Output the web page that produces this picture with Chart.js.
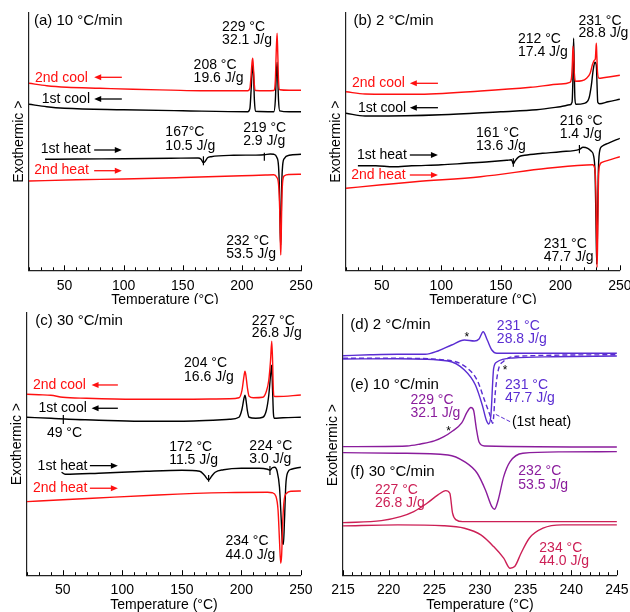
<!DOCTYPE html>
<html>
<head>
<meta charset="utf-8">
<script src="https://cdn.jsdelivr.net/npm/chart.js@4.4.1/dist/chart.umd.min.js"></script>
<style>
body { margin:0; background:#fff; width:630px; height:612px; overflow:hidden; position:relative; }
.p { position:absolute; overflow:hidden; }
</style>
</head>
<body>
<div class="p" style="left:3px;top:0;width:320px;height:304px"><canvas id="ca" width="320" height="310"></canvas></div>
<div class="p" style="left:320px;top:0;width:320px;height:304px"><canvas id="cb" width="320" height="310"></canvas></div>
<div class="p" style="left:1px;top:304px;width:320px;height:308px"><canvas id="cc" width="320" height="310"></canvas></div>
<div class="p" style="left:317px;top:304px;width:320px;height:308px"><canvas id="cd" width="320" height="310"></canvas></div>
<script>
// tick labels
const wideTicks = [50, 100, 150, 200, 250];
const zoomTicks = [215, 220, 225, 230, 235, 240, 245];

// (a) 10 °C/min  — [temperature, signal]
const aCool2 = [[20,187],[35,184.5],[52,183],[80,182],[108,181],[140,180.2],[165,179.6],[205,179.6],[206.8,182],[207.8,195],[208.6,208],[209.2,212],[209.9,200],[210.6,185],[211.5,179.8],[220,179.6],[227,179.8],[228.3,190],[229.1,220],[229.8,237],[230.4,215],[231,190],[232,180.5],[240,180],[250,180]];
const aCool1 = [[20,166],[35,163.5],[50,162],[100,160.5],[150,159.5],[205,158.6],[206.8,162],[207.8,180],[208.7,200],[209.2,205],[209.9,195],[210.6,170],[211.5,159],[227,158.6],[228.3,170],[229.1,195],[229.8,208],[230.4,190],[231,170],[232,159.5],[240,158.6],[250,158.6]];
const aHeat1 = [[33.6,111],[60,111.3],[100,111.6],[140,112],[163,112.3],[165.5,111],[167.5,107.6],[169,109],[171,112.5],[174,113.6],[193,115],[210,115.2],[219,115.5],[224,116.3],[227,116],[229.5,113],[231,104],[231.8,80],[232.4,40],[232.8,25],[233.2,45],[233.7,85],[234.5,105],[236,112],[240,115],[250,116]];
const aHeat2 = [[20,89.3],[60,90.5],[100,91.3],[150,92.8],[200,94.5],[220,95.3],[227,95.5],[229.5,93],[231,86],[232,60],[232.5,30],[232.9,15.3],[233.3,35],[233.8,70],[234.6,90],[236,94.5],[240,95.8],[250,96]];

// (b) 2 °C/min
const bCool2 = [[20,178.6],[36,176.3],[78,176],[133,179.3],[175,183],[200,186.3],[208,188],[209.3,192],[210,205],[210.6,224],[211.2,215],[211.8,195],[212.6,189],[218,189.5],[222,192],[225,197],[227,206],[228.5,210],[229.3,211],[229.8,220],[230.2,227],[230.6,215],[231.2,198],[232.5,192],[236,192.5],[242,193.5],[250,195]];
const bCool1 = [[20,157],[36,154.3],[70,154.5],[100,155.5],[150,158.6],[180,160.5],[200,163.6],[208,165.5],[209.8,168],[210.5,190],[211.1,232],[211.6,205],[212.2,172],[213,166],[220,167],[224,172],[226,185],[227.5,200],[229,208],[230.2,205],[230.8,185],[231.4,168],[233,166.5],[240,168.5],[250,171]];
const bHeat1 = [[30,104.6],[45,104.5],[60,103.5],[75,104.5],[100,105.5],[120,107],[140,108.5],[155,110],[159,110.5],[160.5,106.5],[162,109.5],[165,113.5],[170,115],[185,117],[200,118.6],[216,121],[219,123],[223,122],[226,119],[228,114],[229.2,95],[229.9,50],[230.5,6],[231.1,35],[231.8,95],[232.8,118],[235,124],[240,127],[250,132]];
const bHeat2 = [[20,82],[50,85.5],[78,88.6],[133,93.6],[189,102],[222,105.3],[227,105.5],[229,101],[229.8,80],[230.4,35],[230.8,3],[231.3,30],[232,90],[233,105],[235,108],[240,110],[250,113.6]];

// (c) 30 °C/min
const cCool2 = [[20,181],[30,180.5],[40,180],[50,178],[70,177],[110,176],[150,176],[190,176.5],[198,177.5],[200.5,185],[202.3,200],[203,204],[203.8,200],[205,188],[206.5,179],[210,177.5],[218,178],[221,184],[223,195],[224.5,215],[225.5,234],[226.2,215],[226.7,190],[227.3,179],[230,178.8],[250,180.3]];
const cCool1 = [[20,158],[40,157],[55,156],[75,155.3],[115,154],[160,154.3],[190,156],[198,158],[200.5,166],[202.2,177],[203,180],[203.8,176],[205,165],[206.5,158],[212,157],[218,158],[221,165],[223,180],[224.5,200],[225.4,210],[226.2,185],[226.9,162],[227.6,157],[235,157.5],[250,158]];
const cHeat1 = [[49,103],[52,101],[80,102],[120,104],[150,105],[165,104],[169,100],[172.5,95.3],[175,99],[178,103],[185,105.5],[200,107],[215,107],[222,106],[224,105],[226,107.5],[228,108],[230,104],[232,88],[233.5,55],[234.5,32],[235.3,31],[236.2,55],[237.3,90],[239,103],[242,106],[250,108]];
const cHeat2 = [[20,73.6],[50,75.5],[75,77],[130,80.3],[187,82.6],[222,83],[226,82.5],[229,79],[230.8,65],[232,35],[233,12],[233.8,20],[234.8,55],[236,76],[238,82],[242,84],[250,84.3]];

// (d) 2, (e) 10, (f) 30 °C/min, 215–245 °C
const dCool = [[215,219.6],[218,220.5],[221,221],[224,221],[225.4,224.3],[226.9,230.3],[228.3,235.3],[229.4,234.3],[229.9,236.3],[230.35,243.6],[230.8,235.3],[231.3,225.3],[231.85,222],[235,222],[245,222]];
const dHeat = [[215,216.3],[221,216.5],[226.5,214.3],[228.3,205.3],[229.5,190.3],[230.25,170.3],[230.7,155],[230.96,151.3],[231.2,160],[231.5,207],[231.85,213.3],[233.6,217.3],[238,218.5],[245,219.3]];
const dHeatFirst = [[215,217],[221,217],[226.5,215],[228.5,208],[229.7,195],[230.5,175],[231.1,160],[231.4,152],[231.7,185],[232,205],[232.6,214],[234,219],[245,220.5]];
const eCool = [[215,128.6],[222,129.3],[223.5,131.3],[225,134.3],[226,138.3],[227,144.3],[228,152.3],[228.6,163.3],[229,167.8],[229.3,165],[229.6,147],[229.9,133.3],[230.5,129.3],[245,128.3]];
const eHeat = [[215,122.6],[221.1,122],[226.5,120.3],[228.3,113.6],[229.7,102],[230.6,85.3],[231.3,68.6],[231.6,66],[232,75.3],[232.6,98.6],[233.3,113.6],[234.7,122],[239,123.4],[245,123.6]];
const fCool = [[215,52.6],[219.2,54.6],[221.3,58.6],[222.75,63.6],[224.2,72],[225.4,80.3],[226.25,84.6],[226.7,82],[227,62],[227.4,55.3],[228.1,53.6],[245,53.6]];
const fHeat = [[215,49.3],[221,50.3],[226,49.5],[228.3,47],[230.1,40.3],[231.5,28.6],[232.6,17],[233.3,7],[233.8,8.6],[234.5,22],[235.4,37],[236.9,47],[239,50.3],[245,50.3]];

const RED = '#ff1010', BLK = '#000000';
const DCOL = '#5a2dd2', ECOL = '#8a1c9c', FCOL = '#cc1f55';
const FONT = '"Liberation Sans", Arial, sans-serif';
Chart.defaults.font.family = FONT;
Chart.defaults.color = '#000';

function pts(a) { return a.map(p => ({x: p[0], y: p[1]})); }

function line(data, color, dash) {
  return { data: pts(data), borderColor: color, borderWidth: 1.4, pointRadius: 0,
           cubicInterpolationMode: 'monotone', borderDash: dash || [] };
}

// text, arrows, little marks drawn on top, positioned with the chart scales
function notes(cfg) {
  return {
    id: 'notes',
    afterDraw(chart) {
      const ctx = chart.ctx, xs = chart.scales.x, ys = chart.scales.y;
      const X = v => xs.getPixelForValue(v), Y = v => ys.getPixelForValue(v);
      ctx.save();
      ctx.strokeStyle = '#000';
      ctx.lineWidth = 1;
      const b = ys.getPixelForValue(ys.min);
      for (let v = xs.min; v <= xs.max + 1e-6; v += cfg.minor) {
        const major = cfg.ticks.some(t => Math.abs(t - v) < 1e-6);
        const px = Math.round(X(v)) + 0.5;
        ctx.beginPath(); ctx.moveTo(px, b); ctx.lineTo(px, b - (major ? 5 : 3)); ctx.stroke();
      }
      (cfg.marks || []).forEach(([t, y0, y1, c]) => {
        ctx.strokeStyle = c; ctx.lineWidth = 1.2;
        ctx.beginPath(); ctx.moveTo(X(t), Y(y0)); ctx.lineTo(X(t), Y(y1)); ctx.stroke();
      });
      (cfg.leaders || []).forEach(([t0, v0, t1, v1, c]) => {
        ctx.strokeStyle = c; ctx.lineWidth = 1; ctx.setLineDash([4, 2]);
        ctx.beginPath(); ctx.moveTo(X(t0), Y(v0)); ctx.lineTo(X(t1), Y(v1)); ctx.stroke();
        ctx.setLineDash([]);
      });
      (cfg.arrows || []).forEach(([t0, t1, v, c]) => {
        const x0 = X(t0), x1 = X(t1), py = Y(v), d = Math.sign(x1 - x0);
        ctx.strokeStyle = c; ctx.fillStyle = c; ctx.lineWidth = 1.3;
        ctx.beginPath(); ctx.moveTo(x0, py); ctx.lineTo(x1 - d * 5, py); ctx.stroke();
        ctx.beginPath(); ctx.moveTo(x1, py); ctx.lineTo(x1 - d * 7, py - 3); ctx.lineTo(x1 - d * 7, py + 3); ctx.closePath(); ctx.fill();
      });
      ctx.textAlign = 'left'; ctx.textBaseline = 'middle';
      (cfg.texts || []).forEach(([s, t, v, c, size]) => {
        ctx.fillStyle = c; ctx.font = (size || 14) + 'px ' + FONT;
        ctx.fillText(s, X(t), Y(v));
      });
      ctx.restore();
    }
  };
}

function panel(id, datasets, xr, ymax, tickVals, pad, cfg) {
  new Chart(document.getElementById(id), {
    type: 'line',
    data: { datasets },
    options: {
      responsive: false, animation: false, devicePixelRatio: 1,
      layout: { padding: pad },
      plugins: { legend: { display: false }, tooltip: { enabled: false } },
      scales: {
        x: {
          type: 'linear', min: xr[0], max: xr[1],
          afterBuildTicks: s => { s.ticks = tickVals.map(v => ({ value: v })); },
          grid: { display: false, drawTicks: false, tickLength: 0 },
          border: { display: true, color: '#222', width: 1.2 },
          ticks: { padding: 8.4, font: { size: 14, lineHeight: 1 }, color: '#000', maxRotation: 0 },
          title: { display: true, text: 'Temperature (°C)', font: { size: 14, lineHeight: 1 }, padding: { top: -8, bottom: 2 }, color: '#000' }
        },
        y: {
          min: 0, max: ymax,
          grid: { display: false, drawTicks: false, tickLength: 0 },
          border: { display: true, color: '#222', width: 1.2 },
          ticks: { display: false },
          title: { display: true, text: 'Exothermic >', font: { size: 14, lineHeight: 1 }, padding: { top: 9, bottom: 3 }, color: '#000' }
        }
      }
    },
    plugins: [notes(cfg)]
  });
}

panel('ca',
  [line(aCool2, RED), line(aHeat2, RED), line(aCool1, BLK), line(aHeat1, BLK)],
  [20, 250], 257.3, wideTicks, { left: 0, top: 13, right: 22, bottom: 0.9 },
  { minor: 10, ticks: wideTicks,
    marks: [[167.5, 105, 114, BLK], [219, 109.6, 117.6, BLK]],
    arrows: [[98.5, 75.1, 193, RED], [98.5, 75.1, 171.3, BLK], [75.1, 98.5, 120.3, BLK], [75.1, 98.5, 99.6, RED]],
    texts: [['(a) 10 °C/min', 24.2, 249.6, BLK, 15],
            ['229 °C', 183.3, 242.8, BLK], ['32.1 J/g', 183.3, 230.3, BLK],
            ['208 °C', 159.2, 205.3, BLK], ['19.6 J/g', 159.2, 192.3, BLK],
            ['2nd cool', 25.1, 192.6, RED], ['1st cool', 30.8, 171.3, BLK],
            ['167°C', 135.3, 138, BLK], ['10.5 J/g', 135.3, 124.6, BLK],
            ['219 °C', 201.1, 142.3, BLK], ['2.9 J/g', 201.1, 129, BLK],
            ['1st heat', 29.9, 121.3, BLK], ['2nd heat', 24.5, 100.3, RED],
            ['232 °C', 186.7, 29.6, BLK], ['53.5 J/g', 186.7, 16.3, BLK]] });

panel('cb',
  [line(bCool2, RED), line(bHeat2, RED), line(bCool1, BLK), line(bHeat1, BLK)],
  [20, 250], 257.3, wideTicks, { left: 0, top: 13, right: 18.3, bottom: 0.9 },
  { minor: 10, ticks: wideTicks,
    marks: [[160.5, 103.6, 112, BLK], [216, 117, 125.3, BLK]],
    arrows: [[97.2, 73.6, 187, RED], [97.2, 73.6, 162.6, BLK], [73.6, 97.2, 115.3, BLK], [73.6, 97.2, 95.3, RED]],
    texts: [['(b) 2 °C/min', 26.3, 249.6, BLK, 15],
            ['231 °C', 215.25, 249.6, BLK], ['28.8 J/g', 215.25, 237, BLK],
            ['212 °C', 164.4, 231.3, BLK], ['17.4 J/g', 164.4, 218, BLK],
            ['2nd cool', 25, 187, RED], ['1st cool', 30, 162.6, BLK],
            ['161 °C', 129.2, 137, BLK], ['13.6 J/g', 129.2, 124.3, BLK],
            ['216 °C', 199.4, 149.6, BLK], ['1.4 J/g', 199.4, 136.3, BLK],
            ['1st heat', 29.2, 115.3, BLK], ['2nd heat', 24.4, 95.3, RED],
            ['231 °C', 186.1, 26, BLK], ['47.7 J/g', 186.1, 13, BLK]] });

panel('cc',
  [line(cCool2, RED), line(cHeat2, RED), line(cCool1, BLK), line(cHeat1, BLK)],
  [20, 250], 262.3, wideTicks, { left: 0, top: 9, right: 18.3, bottom: 0 },
  { minor: 10, ticks: wideTicks,
    marks: [[50.5, 151.3, 160.3, BLK], [172.5, 93.6, 100.3, BLK], [224, 100.3, 109.3, BLK]],
    arrows: [[96.3, 74.2, 190.3, RED], [96.3, 74.2, 167, BLK], [72.8, 96.3, 109.6, BLK], [72.8, 96.3, 87, RED]],
    texts: [['(c) 30 °C/min', 26.9, 254.6, BLK, 15],
            ['227 °C', 208.8, 254.6, BLK], ['26.8 J/g', 208.8, 242, BLK],
            ['204 °C', 151.9, 212.6, BLK], ['16.6 J/g', 151.9, 198.6, BLK],
            ['2nd cool', 25, 190.3, RED], ['1st cool', 29.7, 167, BLK],
            ['49 °C', 36.7, 142, BLK],
            ['172 °C', 139.4, 128.6, BLK], ['11.5 J/g', 139.4, 115.3, BLK],
            ['224 °C', 206.7, 129.6, BLK], ['3.0 J/g', 206.7, 116.3, BLK],
            ['1st heat', 28.9, 109.6, BLK], ['2nd heat', 25, 87, RED],
            ['234 °C', 186.7, 33.6, BLK], ['44.0 J/g', 186.7, 20.3, BLK]] });

panel('cd',
  [line(dCool, DCOL), line(dHeat, DCOL), line(dHeatFirst, DCOL, [5, 3]),
   line(eCool, ECOL), line(eHeat, ECOL), line(fCool, FCOL), line(fHeat, FCOL)],
  [215, 245], 260.3, zoomTicks, { left: 0, top: 11, right: 14.3, bottom: 0 },
  { minor: 1, ticks: zoomTicks,
    leaders: [[233.3, 153.6, 231.7, 161, DCOL]],
    texts: [['(d) 2 °C/min', 215.8, 250.3, BLK, 15],
            ['231 °C', 231.85, 249.3, DCOL], ['28.8 J/g', 231.85, 236.3, DCOL],
            ['*', 228.3, 238, BLK, 12], ['*', 232.5, 205, BLK, 12], ['*', 226.3, 143.5, BLK, 12],
            ['(e) 10 °C/min', 215.8, 190.3, BLK, 15],
            ['231 °C', 232.75, 190.3, DCOL], ['47.7 J/g', 232.75, 177.3, DCOL],
            ['(1st heat)', 233.5, 153.6, BLK],
            ['229 °C', 222.4, 175.3, ECOL], ['32.1 J/g', 222.4, 162.3, ECOL],
            ['(f) 30 °C/min', 215.8, 103.6, BLK, 15],
            ['232 °C', 234.2, 103.6, ECOL], ['53.5 J/g', 234.2, 90.3, ECOL],
            ['227 °C', 218.5, 85.3, FCOL], ['26.8 J/g', 218.5, 72.3, FCOL],
            ['234 °C', 236.5, 27.3, FCOL], ['44.0 J/g', 236.5, 13.6, FCOL]] });
</script>
</body>
</html>
